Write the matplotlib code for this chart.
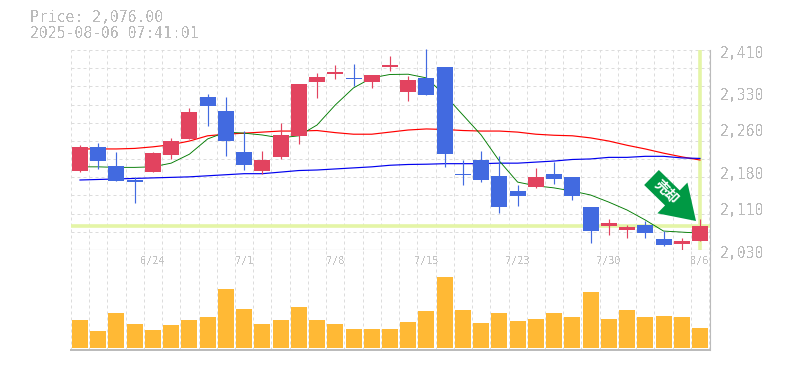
import matplotlib
matplotlib.use("Agg")
import matplotlib.pyplot as plt
from matplotlib.patches import FancyArrow, Rectangle

plt.rcParams['text.antialiased'] = False

# OHLC
opens = [2180, 2226, 2190, 2163, 2178, 2210, 2241, 2321, 2294, 2216, 2180, 2207,
         2247, 2349, 2364, 2357, 2349, 2378, 2330, 2357, 2378, 2174, 2201, 2171,
         2142, 2150, 2174, 2169, 2112, 2076, 2068, 2078, 2051, 2041, 2047]
highs = [2230, 2233, 2216, 2169, 2216, 2243, 2300, 2326, 2321, 2256, 2218, 2271,
         2345, 2366, 2382, 2383, 2363, 2399, 2361, 2412, 2378, 2201, 2218, 2209,
         2154, 2186, 2197, 2169, 2112, 2089, 2078, 2085, 2066, 2053, 2089]
lows = [2178, 2184, 2161, 2119, 2178, 2203, 2241, 2266, 2209, 2182, 2174, 2203,
        2231, 2319, 2355, 2342, 2338, 2370, 2313, 2325, 2188, 2154, 2159, 2100,
        2114, 2148, 2155, 2125, 2043, 2059, 2053, 2053, 2038, 2028, 2047]
closes = [2226, 2199, 2161, 2159, 2214, 2237, 2292, 2304, 2237, 2191, 2201, 2248,
          2345, 2359, 2368, 2355, 2363, 2382, 2353, 2325, 2212, 2173, 2163, 2112,
          2133, 2169, 2165, 2133, 2066, 2081, 2074, 2062, 2040, 2047, 2076]

ma_green = [2188, 2188, 2187, 2187, 2188, 2195, 2212, 2241, 2254, 2252, 2248.5, 2243,
            2247, 2267.5, 2305.5, 2338, 2357, 2363.5, 2364, 2357, 2324.5, 2286.5, 2248.5, 2199,
            2159, 2152, 2148, 2142, 2134.5, 2121, 2106, 2087, 2066, 2064, 2062]
ma_red = [2222, 2222, 2222, 2223, 2226, 2230, 2237, 2247, 2250, 2252, 2254, 2256,
          2256, 2257, 2253, 2250, 2250, 2254, 2258, 2260, 2259, 2257, 2256, 2256,
          2254, 2250, 2248, 2247, 2243, 2237, 2229, 2222, 2214, 2207, 2201]
ma_blue = [2163, 2164, 2165, 2166, 2167, 2168, 2169, 2171, 2173, 2175, 2175, 2178,
           2181, 2182, 2184, 2186, 2188, 2191, 2192.5, 2193, 2194, 2194, 2194, 2195,
           2195, 2197, 2199, 2202, 2203, 2206, 2206, 2208, 2208, 2205, 2204]

volume = [28, 17, 35, 24, 18, 23, 28, 31, 59, 39, 24, 28, 41, 28, 24, 19, 19, 19,
          26, 37, 71, 38, 25, 35, 27, 29, 35, 31, 56, 29, 38, 31, 32, 31, 20]

date_pos = [4, 9, 14, 19, 24, 29, 34]
date_labels = ["6/24", "7/1", "7/8", "7/15", "7/23", "7/30", "8/6"]
price_ticks = [2410, 2330, 2260, 2180, 2110, 2030]
price_labels = ["2,410", "2,330", "2,260", "2,180", "2,110", "2,030"]
last_price = 2076

W, H = 785, 370
UP = "#e2435f"
DOWN = "#426ae0"
GRID = "#dcdcdc"
FRAME = "#bbbbbb"
HILITE = "#e4f5a6"
MONO = "DejaVu Sans Mono"
DASH = (0, (3, 3))


def px_axes(fig, left, top, right, bottom):
    return fig.add_axes([left / W, 1 - bottom / H, (right - left) / W, (bottom - top) / H])


fig = plt.figure(figsize=(W / 100, H / 100), dpi=100)
ax = px_axes(fig, 70.5, 50, 710, 250)
vol = px_axes(fig, 70.5, 250, 710, 350)

xlim = (-0.52, 34.55)
days = list(range(len(closes)))
bounds = [d - 0.5 for d in days] + [34.5]

ax.set_xlim(xlim)
ax.set_ylim(2030, 2410)
vol.set_xlim(xlim)
vol.set_ylim(-2, 98)

for a in (ax, vol):
    a.set_xticks(bounds)
    a.tick_params(length=0, labelbottom=False, labelleft=False)
    a.grid(axis="x", color=GRID, lw=0.72, ls=DASH)
    a.set_axisbelow(True)
    for s in ("top", "left"):
        a.spines[s].set_visible(False)
    a.spines["right"].set_color(FRAME)
    a.spines["right"].set_linewidth(0.8)
    a.spines["bottom"].set_color(FRAME)

ax.spines["bottom"].set_linewidth(0.8)
vol.spines["bottom"].set_linewidth(1.44)

# horizontal grid only on the price panel
for i in range(12):
    ax.axhline(2030 + i * 380 / 11, color=GRID, lw=0.72, ls=DASH, zorder=0.5, clip_on=False)

ax.axhline(last_price, color=HILITE, lw=2.6, zorder=1)
ax.plot([34, 34], [2030, 2410], color=HILITE, lw=2.6, zorder=1, solid_capstyle="butt")

ax.plot(days, ma_red, color="#ff0000", lw=0.85, zorder=2)
ax.plot(days, ma_blue, color="#0000ee", lw=0.85, zorder=2)
ax.plot(days, ma_green, color="#007a00", lw=0.65, zorder=2)

body_w = 16 / 18.235
for d, o, h, l, c in zip(days, opens, highs, lows, closes):
    col = UP if c >= o else DOWN
    ax.plot([d, d], [l, h], color=col, lw=0.85, zorder=3, clip_on=False, solid_capstyle="butt")
    ax.add_patch(Rectangle((d - body_w / 2, min(o, c)), body_w, max(abs(c - o), 2), color=col, lw=0, zorder=4))

vol.bar(days, volume, width=body_w, color="#ffb935", zorder=2)

# text and the arrow go on a full-figure overlay counted in pixels
over = fig.add_axes([0, 0, 1, 1], zorder=10)
over.set_xlim(0, W)
over.set_ylim(H, 0)
over.axis("off")

over.text(30, 18, "Price: 2,076.00", family=MONO, fontsize=10.6, color="#bbbbbb", va="center")
over.text(30, 33, "2025-08-06 07:41:01", family=MONO, fontsize=10.6, color="#bbbbbb", va="center")

for y, t in zip(price_ticks, price_labels):
    py = 250 - (y - 2030) / 1.9
    over.text(720, py + 3, t, family=MONO, fontsize=10.6, color="#bbbbbb", va="center")

for d, t in zip(date_pos, date_labels):
    over.text(80 + d * 18.235, 261, t, family=MONO, fontsize=7.4, color="#c4c4c4", va="center", ha="center")

over.add_patch(FancyArrow(651.5, 177.5, 44.5, 43.5, width=21, head_width=43, head_length=33,
                          length_includes_head=True, color="#009944", lw=0))
over.text(666.5, 192.5, "売却", rotation=-45, rotation_mode="anchor", ha="center", va="center",
          family=["Noto Sans CJK JP", "DejaVu Sans"], fontsize=10, fontweight="bold", color="white",
          antialiased=True)

fig.savefig("out.png", dpi=100)
